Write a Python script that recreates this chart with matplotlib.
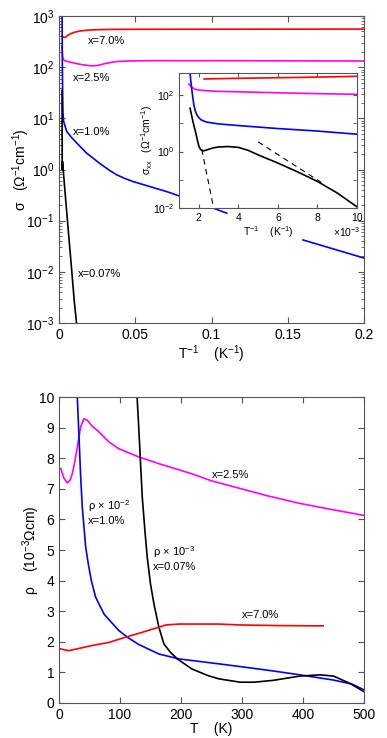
import numpy as np
import matplotlib
matplotlib.use("Agg")
import matplotlib.pyplot as plt
from matplotlib.ticker import LogLocator, FixedLocator, NullFormatter

plt.rcParams['font.family'] = ['Liberation Sans', 'DejaVu Sans']
plt.rcParams['mathtext.fontset'] = 'custom'
plt.rcParams['mathtext.rm'] = 'Liberation Sans'
plt.rcParams['mathtext.it'] = 'Liberation Sans:italic'
plt.rcParams['mathtext.default'] = 'regular'

# ---------------- top panel: sigma vs 1/T ----------------
red_x = [0.0020, 0.0025, 0.0030, 0.0035, 0.0040, 0.0050, 0.0060, 0.0080, 0.010, 0.014, 0.019, 0.025, 0.035, 0.05, 0.1, 0.2]
red_y = [410, 395, 385, 380, 382, 400, 425, 455, 480, 510, 530, 540, 548, 550, 552, 555]
mag_x = [0.0020, 0.0021, 0.0023, 0.0026, 0.0030, 0.004, 0.006, 0.010, 0.015, 0.020, 0.0225, 0.026, 0.030, 0.034, 0.038, 0.045, 0.06, 0.1, 0.2]
mag_y = [260, 210, 170, 150, 140, 133, 128, 120, 112, 107, 106, 109, 117, 124, 129, 132, 134, 134, 132]
blue_x1 = [0.0019, 0.0020, 0.0022, 0.0024, 0.0026, 0.0030, 0.0040, 0.0050, 0.0080, 0.0116, 0.015, 0.018, 0.022, 0.0269, 0.0334, 0.0378, 0.043, 0.0487, 0.060, 0.0706, 0.0925, 0.110]
blue_y1 = [3000, 1500, 100, 30, 13, 8.8, 7.0, 5.6, 4.3, 3.3, 2.6, 2.1, 1.7, 1.3, 0.95, 0.79, 0.67, 0.58, 0.46, 0.37, 0.22, 0.14]
blue_x2 = [0.160, 0.200]
blue_y2 = [0.042, 0.0186]
blk_x = [0.0020, 0.00205, 0.0021, 0.0023, 0.004, 0.006, 0.008, 0.010, 0.0115, 0.012]
blk_y = [35, 3.0, 1.0, 1.45, 0.35, 0.069, 0.014, 0.0027, 0.001, 0.0005]

# ---------------- inset (1/T in 1e-3 K^-1) ----------------
in_red_x = [2.27, 3, 4, 5, 6, 7, 8, 9, 10]
in_red_y = [370, 380, 390, 400, 410, 420, 432, 445, 460]
in_mag_x = [1.5, 1.65, 1.8, 2.0, 2.5, 3, 4, 6, 8, 10]
in_mag_y = [245, 190, 160, 150, 140, 135, 130, 120, 112, 106]
in_blue_x = [1.45, 1.55, 1.6, 1.65, 1.7, 1.75, 1.82, 1.9, 2.0, 2.1, 2.25, 2.4, 2.7, 3, 4, 6, 8, 10]
in_blue_y = [3000, 700, 300, 150, 80, 45, 28, 20, 16, 13.5, 12, 11, 10.2, 9.5, 8.3, 6.5, 5.3, 4.1]
in_blk_x = [1.56, 1.63, 1.7, 1.78, 1.85, 1.93, 2.0, 2.08, 2.2, 2.35, 2.5, 2.75, 3.0, 3.5, 4.0, 4.5, 5, 6, 7, 8, 9, 10]
in_blk_y = [34, 20, 12, 7, 4.5, 2.5, 1.6, 1.2, 1.05, 1.1, 1.2, 1.35, 1.45, 1.5, 1.4, 1.1, 0.76, 0.39, 0.19, 0.087, 0.034, 0.011]
dash1_x = [2.15, 2.75]
dash1_y = [1.2, 0.01]
dash2_x = [5.0, 8.2]
dash2_y = [2.2, 0.08]

# ---------------- bottom panel: rho vs T ----------------
mag_T = [3, 8, 13.6, 18, 21.8, 26, 30, 35.5, 41, 46.4, 54.6, 62.8, 71, 82, 98, 131, 164, 218, 250, 295, 340, 393, 440, 500]
mag_r = [7.66, 7.35, 7.19, 7.28, 7.49, 7.9, 8.36, 9.02, 9.29, 9.24, 9.04, 8.91, 8.75, 8.53, 8.31, 8.04, 7.82, 7.49, 7.26, 7.02, 6.78, 6.53, 6.35, 6.13]
blue_T = [29, 30, 32.8, 35.5, 38.2, 43.7, 48, 53, 60, 74, 98, 112, 130, 150, 164, 197, 262, 297, 350, 395, 450, 480, 500]
blue_r = [11, 10, 8.7, 7.4, 6.4, 5.1, 4.55, 4.0, 3.46, 2.9, 2.37, 2.15, 1.92, 1.73, 1.6, 1.44, 1.28, 1.19, 1.05, 0.92, 0.75, 0.62, 0.43]
blk_T = [127, 128, 131, 133.7, 136.5, 140.8, 144.6, 150, 155.6, 163.7, 172, 183, 194, 218, 245, 262, 297, 320, 351, 395, 428, 450, 477, 500]
blk_r = [11, 10, 8.9, 7.82, 6.73, 5.64, 4.77, 3.89, 3.24, 2.48, 1.93, 1.65, 1.44, 1.11, 0.89, 0.79, 0.68, 0.68, 0.74, 0.88, 0.92, 0.88, 0.64, 0.37]
red_T = [2, 16, 54.6, 82, 109, 136.5, 164, 175, 196.5, 262, 297, 360, 433]
red_r = [1.77, 1.71, 1.88, 1.98, 2.15, 2.31, 2.48, 2.55, 2.58, 2.58, 2.55, 2.53, 2.52]

frame = '#555555'
lw = 1.2

fig = plt.figure(figsize=(3.87, 7.38), dpi=100)

def style(ax, fs):
    for s in ax.spines.values():
        s.set_color(frame)
        s.set_linewidth(0.8)
    ax.tick_params(which='both', direction='in', top=True, right=True,
                   color=frame, labelsize=fs, labelcolor='black')
    ax.tick_params(which='major', length=4)
    ax.tick_params(which='minor', length=2)

# top main axes
ax1 = fig.add_axes([59/387, 1-323/738, 305/387, 307/738])
ax1.plot(red_x, red_y, color='#ff0000', lw=lw)
ax1.plot(mag_x, mag_y, color='#ff00ff', lw=lw)
ax1.plot(blue_x1, blue_y1, color='#0000ff', lw=lw)
ax1.plot(blue_x2, blue_y2, color='#0000ff', lw=lw)
ax1.plot(blk_x, blk_y, color='black', lw=lw)
ax1.set_yscale('log')
ax1.set_xlim(0, 0.2)
ax1.set_ylim(1e-3, 1e3)
ax1.set_xticks([0, 0.05, 0.1, 0.15, 0.2])
ax1.set_xticklabels(['0', '0.05', '0.1', '0.15', '0.2'])
ax1.yaxis.set_major_locator(LogLocator(base=10, numticks=10))
ax1.yaxis.set_minor_locator(LogLocator(base=10, subs=np.arange(2, 10), numticks=20))
ax1.yaxis.set_minor_formatter(NullFormatter())
style(ax1, 10)
ax1.set_xlabel('T$^{-1}$    (K$^{-1}$)', fontsize=10, labelpad=1)
ax1.set_ylabel('σ   (Ω$^{-1}$cm$^{-1}$)', fontsize=10)
ax1.yaxis.set_label_coords(-0.088, 0.5)
ax1.text(0.019, 330, 'x=7.0%', fontsize=8, va='center', ha='left')
ax1.text(0.0094, 62, 'x=2.5%', fontsize=8, va='center', ha='left')
ax1.text(0.0094, 5.4, 'x=1.0%', fontsize=8, va='center', ha='left')
ax1.text(0.0127, 0.009, 'x=0.07%', fontsize=8, va='center', ha='left')

# inset
ax2 = fig.add_axes([179/387, 1-208/738, 178/387, 135/738])
ax2.set_facecolor('white')
ax2.plot(in_red_x, in_red_y, color='#ff0000', lw=lw)
ax2.plot(in_mag_x, in_mag_y, color='#ff00ff', lw=lw)
ax2.plot(in_blue_x, in_blue_y, color='#0000ff', lw=lw)
ax2.plot(in_blk_x, in_blk_y, color='black', lw=lw)
ax2.plot(dash1_x, dash1_y, color='black', lw=0.8, ls=(0, (5, 4)))
ax2.plot(dash2_x, dash2_y, color='black', lw=0.8, ls=(0, (5, 4)))
ax2.set_yscale('log')
ax2.set_xlim(1, 10)
ax2.set_ylim(1e-2, 10**2.78)
ax2.set_xticks([2, 4, 6, 8, 10])
ax2.yaxis.set_major_locator(FixedLocator([1e-2, 1e0, 1e2]))
ax2.yaxis.set_minor_locator(FixedLocator([1e-1, 1e1]))
ax2.yaxis.set_minor_formatter(NullFormatter())
style(ax2, 7.5)
ax2.tick_params(which='major', length=3)
ax2.tick_params(which='minor', length=3)
ax2.set_xlabel('T$^{-1}$    (K$^{-1}$)', fontsize=7.5, labelpad=1)
ax2.set_ylabel('σ$_{xx}$   (Ω$^{-1}$cm$^{-1}$)', fontsize=7.5)
ax2.yaxis.set_label_coords(-0.135, 0.5)
ax2.text(1.02, -0.125, '×10$^{-3}$', transform=ax2.transAxes, fontsize=7.5,
         ha='right', va='top')

# bottom axes
ax3 = fig.add_axes([59/387, 1-703/738, 305/387, 306/738])
ax3.plot(mag_T, mag_r, color='#ff00ff', lw=lw)
ax3.plot(blue_T, blue_r, color='#0000ff', lw=lw)
ax3.plot(blk_T, blk_r, color='black', lw=lw)
ax3.plot(red_T, red_r, color='#ff0000', lw=lw)
ax3.set_xlim(0, 500)
ax3.set_ylim(0, 10)
ax3.set_xticks([0, 100, 200, 300, 400, 500])
ax3.set_yticks(range(0, 11))
style(ax3, 10)
ax3.set_xlabel('T    (K)', fontsize=10, labelpad=0)
ax3.set_ylabel('ρ    (10$^{-3}$Ωcm)', fontsize=10)
ax3.yaxis.set_label_coords(-0.055, 0.5)
ax3.text(250, 7.45, 'x=2.5%', fontsize=8, va='center', ha='left')
ax3.text(48, 6.42, 'ρ × 10$^{-2}$', fontsize=8, va='center', ha='left')
ax3.text(48, 5.96, 'x=1.0%', fontsize=8, va='center', ha='left')
ax3.text(154, 4.92, 'ρ × 10$^{-3}$', fontsize=8, va='center', ha='left')
ax3.text(154, 4.46, 'x=0.07%', fontsize=8, va='center', ha='left')
ax3.text(299, 2.86, 'x=7.0%', fontsize=8, va='center', ha='left')

fig.savefig('out.png', dpi=100)
